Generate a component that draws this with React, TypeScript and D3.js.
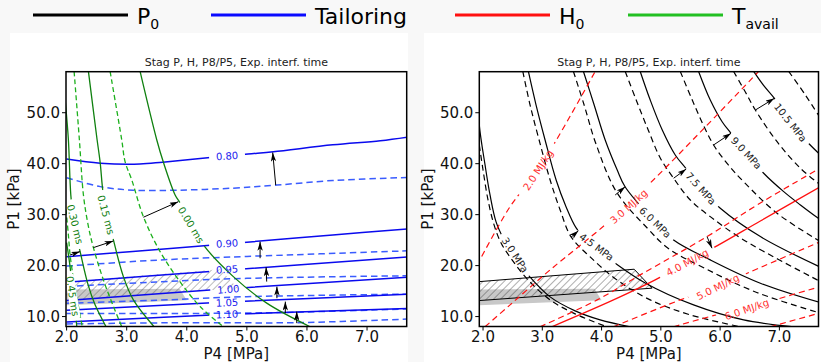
import * as d3 from "d3";

type Pt = [number, number];
type Curve = { id: string; pts: Pt[] };
type CurveLabel = { line: string; text: string; at: Pt; angle: number; box?: boolean };

const W = 821;
const H = 362;

const panelTitle = "Stag P, H, P8/P5, Exp. interf. time";
const xTickValues = [2, 3, 4, 5, 6, 7];
const yTickValues = [10, 20, 30, 40, 50];
const yDomain: [number, number] = [8.05, 58.05];
const leftXDomain: [number, number] = [1.99, 7.66];
const rightXDomain: [number, number] = [1.937, 7.66];

// ---------- left panel: tailoring P8/P5 (solid = computed, dashed = target)
const tailoringSolid: Curve[] = [
  { id: "t080", pts: [[2.0, 40.9], [2.56, 40.1], [3.22, 39.94], [3.6, 40.3], [4.39, 41.2], [5.02, 41.9], [5.44, 42.35], [6.43, 43.7], [7.22, 44.5], [7.67, 45.2]] },
  { id: "t090", pts: [[2.0, 21.76], [3.1, 22.75], [4.39, 24.0], [5.0, 24.6], [6.43, 26.0], [7.67, 27.2]] },
  { id: "t095", pts: [[2.0, 16.75], [4.5, 18.95], [7.67, 21.7]] },
  { id: "t100", pts: [[2.0, 13.15], [4.5, 15.3], [7.67, 17.7]] },
  { id: "t105", pts: [[2.0, 11.25], [4.5, 12.75], [7.67, 14.4]] },
  { id: "t110", pts: [[2.0, 8.95], [4.5, 10.35], [7.67, 11.6]] },
];
const tailoringTarget: Pt[][] = [
  [[2.0, 37.25], [2.56, 35.5], [3.1, 34.8], [3.85, 34.8], [4.77, 35.2], [5.5, 35.8], [6.43, 36.7], [7.67, 37.3]],
  [[2.0, 19.9], [3.1, 20.8], [3.9, 21.3], [5.0, 21.8], [7.67, 22.9]],
  [[2.0, 15.9], [3.5, 16.8], [5.0, 17.5], [7.67, 18.0]],
  [[2.0, 12.6], [3.5, 13.2], [5.0, 13.9], [7.67, 14.4]],
  [[2.0, 10.6], [4.0, 10.6], [5.6, 10.8], [7.67, 11.5]],
  [[2.0, 8.55], [4.0, 8.8], [5.8, 8.8], [7.67, 9.5]],
];
const tailoringArrows: [Pt, Pt][] = [
  [[5.48, 35.8], [5.43, 42.2]],
  [[5.22, 21.45], [5.22, 24.7]],
  [[5.33, 16.86], [5.32, 19.69]],
  [[5.5, 13.6], [5.5, 15.88]],
  [[5.64, 10.67], [5.64, 12.94]],
  [[5.83, 8.71], [5.83, 10.98]],
];
const tailoringLabels: CurveLabel[] = [
  { line: "t080", text: "0.80", at: [4.67, 41.51], angle: -4 },
  { line: "t090", text: "0.90", at: [4.67, 24.35], angle: -4 },
  { line: "t095", text: "0.95", at: [4.67, 19.25], angle: -4 },
  { line: "t100", text: "1.00", at: [4.69, 15.35], angle: -4 },
  { line: "t105", text: "1.05", at: [4.67, 12.75], angle: -3 },
  { line: "t110", text: "1.10", at: [4.67, 10.42], angle: -3 },
];

// ---------- left panel: available test time
const tavailSolid: Curve[] = [
  { id: "g045", pts: [[2.0, 24.5], [2.05, 20.5], [2.1, 15.5], [2.14, 11.5], [2.17, 8.0]] },
  { id: "g030", pts: [[1.98, 52.0], [2.03, 44.65], [2.07, 33.86], [2.125, 27.98], [2.225, 22.75], [2.358, 16.22], [2.474, 12.3], [2.657, 8.0]] },
  { id: "g015", pts: [[2.363, 58.1], [2.508, 44.65], [2.557, 40.39], [2.612, 33.86], [2.691, 29.35], [2.779, 25.04], [2.945, 17.84], [3.111, 13.27], [3.456, 8.0]] },
  { id: "g000", pts: [[3.223, 58.1], [3.501, 44.65], [3.611, 40.27], [3.806, 33.86], [3.889, 32.29], [4.055, 28.57], [4.276, 24.06], [4.775, 17.84], [5.331, 12.63], [6.052, 8.0]] },
];
const tavailTarget: Pt[][] = [
  [[1.99, 31.0], [2.03, 26.0], [2.058, 22.1], [2.12, 17.0], [2.19, 12.5], [2.26, 8.0]],
  [[2.125, 58.1], [2.213, 44.65], [2.28, 33.86], [2.358, 27.98], [2.446, 23.53], [2.641, 16.22], [2.918, 8.0]],
  [[2.724, 58.1], [2.918, 44.65], [2.973, 40.39], [3.085, 36.8], [3.278, 29.6], [3.556, 22.75], [3.889, 16.8], [4.222, 11.96], [4.609, 8.0]],
];
const tavailArrows: [Pt, Pt][] = [
  [[2.058, 22.09], [2.225, 22.75]],
  [[2.446, 23.53], [2.779, 24.84]],
  [[3.278, 29.49], [3.86, 32.55]],
];
const tavailLabels: CurveLabel[] = [
  { line: "g045", text: "0.45 ms", at: [2.1, 14.02], angle: 81, box: true },
  { line: "g030", text: "0.30 ms", at: [2.141, 28.1], angle: 76 },
  { line: "g015", text: "0.15 ms", at: [2.657, 29.94], angle: 75 },
  { line: "g000", text: "0.00 ms", at: [4.072, 27.98], angle: 59 },
];

// ---------- shared: experiment windows
const hatchRegion: Pt[] = [[1.9, 16.82], [4.55, 19.29], [4.85, 15.57], [1.9, 13.11]];
const grayRegion: Pt[] = [[1.9, 15.3], [3.88, 15.45], [4.0, 13.2], [1.9, 12.2]];

// ---------- right panel: stagnation pressure P0
const p0Solid: Curve[] = [
  { id: "s30", pts: [[1.9, 56.0], [1.937, 47.59], [2.034, 39.75], [2.118, 33.86], [2.22, 28.57], [2.338, 25.43], [2.541, 21.51], [2.76, 18.18], [3.132, 13.86], [3.554, 11.12], [3.976, 9.35], [4.483, 8.0]] },
  { id: "s45", pts: [[2.765, 58.1], [2.895, 51.51], [3.047, 44.65], [3.233, 36.8], [3.402, 31.51], [3.571, 27.39], [3.807, 24.25], [4.201, 20.73], [4.736, 16.6], [5.552, 12.29], [6.397, 9.35], [7.242, 8.0]] },
  { id: "s60", pts: [[3.694, 58.1], [3.875, 51.51], [4.061, 44.65], [4.264, 38.76], [4.399, 35.43], [4.905, 28.57], [5.215, 25.04], [5.834, 21.12], [6.679, 16.55], [7.693, 12.75]] },
  { id: "s75", pts: [[4.652, 58.1], [4.821, 52.49], [5.024, 46.61], [5.243, 41.71], [5.429, 38.96], [5.674, 35.14], [6.003, 31.25], [6.679, 25.69], [7.693, 19.69]] },
  { id: "s90", pts: [[5.637, 58.1], [5.834, 52.49], [6.037, 48.18], [6.184, 45.96], [6.443, 42.1], [6.735, 38.12], [7.073, 34.51], [7.355, 31.9], [7.693, 28.96]] },
  { id: "s105", pts: [[6.566, 58.1], [6.73, 55.41], [6.916, 52.82], [7.186, 48.18], [7.468, 44.31], [7.693, 41.71]] },
];
const p0Target: Pt[][] = [
  [[1.937, 43.67], [2.0, 38.76], [2.084, 32.88], [2.186, 27.98], [2.304, 24.45], [2.49, 21.12], [2.743, 17.39], [3.132, 13.27], [3.554, 10.53], [4.09, 8.0]],
  [[2.671, 58.1], [2.794, 51.51], [2.946, 44.65], [3.132, 36.8], [3.301, 30.92], [3.486, 25.63], [3.807, 21.71], [4.258, 17.2], [4.821, 13.27], [5.497, 10.33], [6.341, 8.0]],
  [[3.525, 58.1], [3.706, 51.51], [3.9, 44.06], [4.253, 34.43], [4.78, 27.25], [5.122, 23.41], [5.758, 19.37], [6.618, 14.73], [7.693, 10.67]],
  [[4.399, 58.1], [4.584, 52.49], [4.787, 46.61], [4.99, 41.12], [5.215, 37.14], [5.497, 32.88], [5.834, 29.61], [6.397, 25.04], [7.693, 16.86]],
  [[5.328, 58.1], [5.53, 52.49], [5.716, 47.59], [5.89, 43.67], [6.139, 39.75], [6.397, 36.47], [6.961, 30.27], [7.693, 24.71]],
  [[6.228, 58.1], [6.426, 54.06], [6.595, 50.53], [6.961, 44.31], [7.355, 39.1], [7.693, 35.82]],
  [[7.157, 58.1], [7.439, 53.47], [7.693, 48.9]],
];
const p0Arrows: [Pt, Pt][] = [
  [[3.486, 25.57], [3.61, 26.86]],
  [[4.23, 33.86], [4.399, 35.49]],
  [[5.215, 37.14], [5.429, 38.96]],
  [[5.89, 43.67], [6.184, 45.96]],
  [[6.595, 50.53], [6.916, 52.82]],
];
const p0Labels: CurveLabel[] = [
  { line: "s30", text: "3.0 MPa", at: [2.541, 22.1], angle: 57 },
  { line: "s45", text: "4.5 MPa", at: [3.917, 23.67], angle: 36 },
  { line: "s60", text: "6.0 MPa", at: [4.905, 28.47], angle: 44 },
  { line: "s75", text: "7.5 MPa", at: [5.674, 35.14], angle: 48 },
  { line: "s90", text: "9.0 MPa", at: [6.443, 42.1], angle: 47 },
  { line: "s105", text: "10.5 MPa", at: [7.186, 48.08], angle: 52 },
];

// ---------- right panel: stagnation enthalpy H0
const h0Target: Curve[] = [
  { id: "r20", pts: [[1.9, 20.1], [2.456, 31.57], [2.929, 38.76], [3.892, 58.1]] },
  { id: "r30", pts: [[2.034, 8.0], [2.456, 12.29], [3.132, 19.16], [4.09, 28.31], [4.821, 36.22], [5.75, 47.2], [6.65, 58.1]] },
  { id: "r40", pts: [[2.963, 8.0], [3.926, 13.27], [4.652, 18.18], [5.779, 25.69], [6.679, 32.29], [7.693, 39.16]] },
  { id: "r50", pts: [[4.201, 8.0], [5.328, 13.27], [5.953, 15.82], [6.51, 18.76], [7.693, 24.71]] },
  { id: "r60", pts: [[5.215, 8.0], [6.059, 10.67], [6.451, 11.41], [6.814, 12.88], [7.693, 15.88]] },
  { id: "r70", pts: [[6.848, 8.0], [7.693, 10.73]] },
];
const h0Solid: Curve[] = [
  { id: "h40", pts: [[3.16, 8.0], [4.201, 13.27], [4.905, 17.2], [5.446, 20.73], [5.885, 23.47], [6.679, 28.76], [7.693, 35.49]] },
];
const h0Arrows: [Pt, Pt][] = [[[5.779, 25.69], [5.863, 23.41]]];
const h0Labels: CurveLabel[] = [
  { line: "r20", text: "2.0 MJ/kg", at: [2.929, 38.76], angle: -57 },
  { line: "r30", text: "3.0 MJ/kg", at: [4.458, 31.61], angle: -42 },
  { line: "h40", text: "4.0 MJ/kg", at: [5.446, 20.63], angle: -28 },
  { line: "r50", text: "5.0 MJ/kg", at: [5.961, 15.82], angle: -26 },
  { line: "r60", text: "6.0 MJ/kg", at: [6.451, 11.41], angle: -19 },
];

// ---------- legend
const legendItems = [
  { main: "P", sub: "0", color: "#000000" },
  { main: "Tailoring", sub: "", color: "#0a0aff" },
  { main: "H", sub: "0", color: "#ff1010" },
  { main: "T", sub: "avail", color: "#22c022" },
];
const legendLineX = [33, 211, 455, 628];

const FONT = "DejaVu Sans, Liberation Sans, sans-serif";

type Frame = { x0: number; x1: number; y0: number; y1: number };
const leftFrame: Frame = { x0: 66, x1: 406.7, y0: 71.7, y1: 326.5 };
const rightFrame: Frame = { x0: 479.3, x1: 818.5, y0: 71.7, y1: 326.5 };

function linePath(x: any, y: any, pts: Pt[]) {
  return d3.line<Pt>().x((d) => x(d[0])).y((d) => y(d[1])).curve(d3.curveCatmullRom.alpha(0.5))(pts) ?? "";
}

function labelWidth(text: string) {
  return text.length * 6;
}

function Masks({ prefix, curves, labels, x, y, pad }: { prefix: string; curves: Curve[]; labels: CurveLabel[]; x: any; y: any; pad: number }) {
  return (
    <>
      {curves.map((c) => (
        <mask key={c.id} id={`${prefix}-${c.id}`} maskUnits="userSpaceOnUse" x={0} y={0} width={W} height={H}>
          <rect x={0} y={0} width={W} height={H} fill="white" />
          {labels
            .filter((l) => l.line === c.id)
            .map((l, i) => {
              const w = labelWidth(l.text) + pad;
              return (
                <rect key={i} x={-w / 2} y={-6} width={w} height={12} fill="black" transform={`translate(${x(l.at[0])},${y(l.at[1])}) rotate(${l.angle})`} />
              );
            })}
        </mask>
      ))}
    </>
  );
}

function Labels({ labels, x, y, color }: { labels: CurveLabel[]; x: any; y: any; color: string }) {
  return (
    <>
      {labels.map((l, i) => (
        <g key={i} transform={`translate(${x(l.at[0])},${y(l.at[1])}) rotate(${l.angle})`}>
          {l.box ? <rect x={-labelWidth(l.text) / 2 - 1} y={-4.5} width={labelWidth(l.text) + 2} height={9} fill="white" /> : null}
          <text textAnchor="middle" dy="0.36em" fontSize={10} fill={color} fontFamily={FONT}>
            {l.text}
          </text>
        </g>
      ))}
    </>
  );
}

function Arrows({ arrows, x, y }: { arrows: [Pt, Pt][]; x: any; y: any }) {
  return (
    <>
      {arrows.map(([a, b], i) => (
        <line key={i} x1={x(a[0])} y1={y(a[1])} x2={x(b[0])} y2={y(b[1])} stroke="#000" strokeWidth={1} markerEnd="url(#arrowhead)" />
      ))}
    </>
  );
}

function Axes({ frame, x, y, yLabelX }: { frame: Frame; x: any; y: any; yLabelX: number }) {
  const cx = (frame.x0 + frame.x1) / 2;
  const cy = (frame.y0 + frame.y1) / 2;
  return (
    <g fontFamily={FONT}>
      <rect x={frame.x0} y={frame.y0} width={frame.x1 - frame.x0} height={frame.y1 - frame.y0} fill="none" stroke="#000" strokeWidth={1.5} />
      {xTickValues.map((t) => (
        <g key={`x${t}`}>
          <line x1={x(t)} x2={x(t)} y1={frame.y1} y2={frame.y1 + 4} stroke="#000" strokeWidth={1} />
          <text x={x(t)} y={frame.y1 + 15} textAnchor="middle" fontSize={15} fill="#111">
            {t.toFixed(1)}
          </text>
        </g>
      ))}
      {yTickValues.map((t) => (
        <g key={`y${t}`}>
          <line x1={frame.x0 - 4} x2={frame.x0} y1={y(t)} y2={y(t)} stroke="#000" strokeWidth={1} />
          <text x={frame.x0 - 6} y={y(t)} dy="0.36em" textAnchor="end" fontSize={15} fill="#111">
            {t.toFixed(1)}
          </text>
        </g>
      ))}
      <text x={cx} y={359} textAnchor="middle" fontSize={15} fill="#111">
        P4 [MPa]
      </text>
      <text transform={`translate(${yLabelX},${cy}) rotate(-90)`} textAnchor="middle" fontSize={15} fill="#111">
        P1 [kPa]
      </text>
      <text x={cx} y={66} textAnchor="middle" fontSize={11} fill="#222">
        {panelTitle}
      </text>
    </g>
  );
}

function LeftPanel() {
  const f = leftFrame;
  const x = d3.scaleLinear().domain(leftXDomain).range([f.x0, f.x1]);
  const y = d3.scaleLinear().domain(yDomain).range([f.y1, f.y0]);
  const poly = (pts: Pt[]) => pts.map((p) => `${x(p[0])},${y(p[1])}`).join(" ");
  return (
    <g>
      <defs>
        <clipPath id="left-clip">
          <rect x={f.x0} y={f.y0} width={f.x1 - f.x0} height={f.y1 - f.y0} />
        </clipPath>
        <Masks prefix="lm" curves={tailoringSolid} labels={tailoringLabels} x={x} y={y} pad={12} />
        <Masks prefix="lm" curves={tavailSolid} labels={tavailLabels} x={x} y={y} pad={8} />
      </defs>
      <g clipPath="url(#left-clip)">
        <polygon points={poly(grayRegion)} fill="#c8c8c8" />
        <polygon points={poly(hatchRegion)} fill="url(#hatch-left)" />
        {tailoringTarget.map((pts, i) => (
          <path key={i} d={linePath(x, y, pts)} fill="none" stroke="#3a5cff" strokeWidth={1.5} strokeDasharray="6.5 4" />
        ))}
        {tailoringSolid.map((c) => (
          <path key={c.id} d={linePath(x, y, c.pts)} fill="none" stroke="#0a0aee" strokeWidth={1.5} mask={`url(#lm-${c.id})`} />
        ))}
        {tavailTarget.map((pts, i) => (
          <path key={i} d={linePath(x, y, pts)} fill="none" stroke="#1cb01c" strokeWidth={1.3} strokeDasharray="5 3" />
        ))}
        {tavailSolid.map((c) => (
          <path key={c.id} d={linePath(x, y, c.pts)} fill="none" stroke="#0f800f" strokeWidth={1.3} mask={`url(#lm-${c.id})`} />
        ))}
        <Labels labels={tavailLabels} x={x} y={y} color="#108010" />
        <Labels labels={tailoringLabels} x={x} y={y} color="#1a1aee" />
        <Arrows arrows={tailoringArrows} x={x} y={y} />
        <Arrows arrows={tavailArrows} x={x} y={y} />
      </g>
      <Axes frame={f} x={x} y={y} yLabelX={19} />
    </g>
  );
}

function RightPanel() {
  const f = rightFrame;
  const x = d3.scaleLinear().domain(rightXDomain).range([f.x0, f.x1]);
  const y = d3.scaleLinear().domain(yDomain).range([f.y1, f.y0]);
  const poly = (pts: Pt[]) => pts.map((p) => `${x(p[0])},${y(p[1])}`).join(" ");
  return (
    <g>
      <defs>
        <clipPath id="right-clip">
          <rect x={f.x0} y={f.y0} width={f.x1 - f.x0} height={f.y1 - f.y0} />
        </clipPath>
        <Masks prefix="rm" curves={p0Solid} labels={p0Labels} x={x} y={y} pad={8} />
        <Masks prefix="rm" curves={h0Target} labels={h0Labels} x={x} y={y} pad={8} />
        <Masks prefix="rm" curves={h0Solid} labels={h0Labels} x={x} y={y} pad={8} />
      </defs>
      <g clipPath="url(#right-clip)">
        <polygon points={poly(grayRegion)} fill="#c8c8c8" />
        <polygon points={poly(hatchRegion)} fill="url(#hatch-right)" stroke="#000" strokeWidth={1} />
        {p0Target.map((pts, i) => (
          <path key={i} d={linePath(x, y, pts)} fill="none" stroke="#000" strokeWidth={1.2} strokeDasharray="6 4" />
        ))}
        {p0Solid.map((c) => (
          <path key={c.id} d={linePath(x, y, c.pts)} fill="none" stroke="#000" strokeWidth={1.2} mask={`url(#rm-${c.id})`} />
        ))}
        {h0Target.map((c) => (
          <path key={c.id} d={linePath(x, y, c.pts)} fill="none" stroke="#ff1010" strokeWidth={1.2} strokeDasharray="6 4" mask={`url(#rm-${c.id})`} />
        ))}
        {h0Solid.map((c) => (
          <path key={c.id} d={linePath(x, y, c.pts)} fill="none" stroke="#ff1010" strokeWidth={1.3} mask={`url(#rm-${c.id})`} />
        ))}
        <Labels labels={p0Labels} x={x} y={y} color="#222" />
        <Labels labels={h0Labels} x={x} y={y} color="#ff3030" />
        <Arrows arrows={p0Arrows} x={x} y={y} />
        <Arrows arrows={h0Arrows} x={x} y={y} />
      </g>
      <Axes frame={f} x={x} y={y} yLabelX={433} />
    </g>
  );
}

function Legend() {
  return (
    <g fontFamily={FONT}>
      {legendItems.map((item, i) => (
        <g key={item.main}>
          <line x1={legendLineX[i]} x2={legendLineX[i] + 95} y1={15} y2={15} stroke={item.color} strokeWidth={3} />
          <text x={legendLineX[i] + 104} y={24} fontSize={22} fill="#000">
            <tspan>{item.main}</tspan>
            {item.sub ? (
              <tspan dy={5} fontSize={14}>
                {item.sub}
              </tspan>
            ) : null}
          </text>
        </g>
      ))}
    </g>
  );
}

export default function App() {
  return (
    <div style={{ position: "fixed", left: 0, top: 0, width: W, height: H }}>
      <svg width={W} height={H} viewBox={`0 0 ${W} ${H}`} style={{ display: "block" }}>
        <defs>
          <pattern id="hatch-left" patternUnits="userSpaceOnUse" width={5} height={5} patternTransform="rotate(45)">
            <line x1={0} y1={0} x2={0} y2={5} stroke="#555" strokeWidth={0.8} />
          </pattern>
          <pattern id="hatch-right" patternUnits="userSpaceOnUse" width={5} height={5} patternTransform="rotate(45)">
            <line x1={0} y1={0} x2={0} y2={5} stroke="#333" strokeWidth={0.8} />
          </pattern>
          <marker id="arrowhead" viewBox="0 0 10 6" refX={10} refY={3} markerWidth={9} markerHeight={5.4} markerUnits="userSpaceOnUse" orient="auto">
            <path d="M0,0 L10,3 L0,6 L2.5,3 z" fill="#000" />
          </marker>
        </defs>
        <rect x={0} y={0} width={W} height={H} fill="#f8f8f8" />
        <rect x={10} y={33} width={398} height={H - 33} fill="#fff" />
        <rect x={424} y={33} width={W - 424} height={H - 33} fill="#fff" />
        <Legend />
        <LeftPanel />
        <RightPanel />
      </svg>
    </div>
  );
}
